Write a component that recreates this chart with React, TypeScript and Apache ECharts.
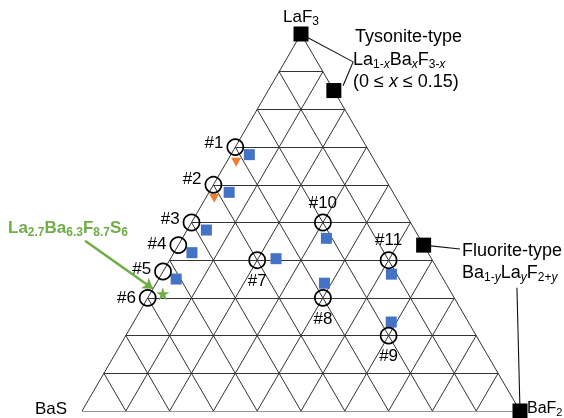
import React, { useEffect, useRef } from 'react';
import * as echarts from 'echarts';

const H = Math.sqrt(3) / 2;

// Ternary compositions as fractions: LaF3 (top), BaF2 (bottom-right); BaS = 1 - LaF3 - BaF2
const gridDivisions = 10;

const sampleNames = ['#1', '#2', '#3', '#4', '#5', '#6', '#7', '#8', '#9', '#10', '#11'];
const sampleLaF3 = [0.7, 0.6, 0.5, 0.44, 0.37, 0.3, 0.4, 0.3, 0.2, 0.5, 0.4];
const sampleBaF2 = [0, 0, 0, 0, 0, 0, 0.2, 0.4, 0.6, 0.3, 0.5];
const sampleLabelPos = ['left', 'left', 'left', 'left', 'left', 'left', 'bottom', 'bottom', 'bottom', 'top', 'top'];
const sampleLabelDy = [-5, -6, -4, -2, -3, 0, 0, 0, 0, 0, 0];

const blueLaF3 = [0.68, 0.58, 0.48, 0.42, 0.35, 0.404, 0.339, 0.236, 0.458, 0.363];
const blueBaF2 = [0.042, 0.046, 0.044, 0.041, 0.04, 0.241, 0.384, 0.588, 0.329, 0.525];

const orangeLaF3 = [0.66, 0.564];
const orangeBaF2 = [0.022, 0.02];

const starLaF3 = [0.311];
const starBaF2 = [0.029];

const phaseNames = ['LaF3', 'Tysonite', 'Fluorite', 'BaF2'];
const phaseLaF3 = [1, 0.85, 0.44, 0];
const phaseBaF2 = [0, 0.15, 0.56, 1];

// annotation leader lines (in the cartesian frame of the triangle)
const tysoniteLeader = [[0.5, H], [0.619, 0.802], [0.596, 0.747]];
const fluoriteLeader = [[0.78, 0.381], [0.863, 0.372]];
const baf2Leader = [[0.993, 0.283], [1, 0]];
const greenArrow = [[0.007, 0.391], [0.162, 0.281]];

const toXY = (a: number, c: number) => [c + a / 2, a * H];

const FONT = '"Liberation Sans", Arial, sans-serif';

const subRich = (fill: string, size = 17, bold = false) => {
  const w = bold ? 'bold' : 'normal';
  const ss = Math.round(size * 0.68);
  return {
    n: { fontSize: size, lineHeight: size + 4, fontFamily: FONT, fill, fontWeight: w },
    s: { fontSize: ss, lineHeight: ss - 1, verticalAlign: 'bottom', fontFamily: FONT, fill, fontWeight: w },
    si: { fontSize: ss, lineHeight: ss - 1, verticalAlign: 'bottom', fontFamily: FONT, fill, fontStyle: 'italic' },
    i: { fontSize: size, lineHeight: size + 4, fontFamily: FONT, fill, fontStyle: 'italic' },
  };
};

export default function App() {
  const ref = useRef<HTMLDivElement>(null);
  useEffect(() => {
    if (!ref.current) return;
    const chart = echarts.init(ref.current, undefined, { renderer: 'svg' });

    const gridLines: any[] = [];
    for (let i = 0; i <= gridDivisions; i++) {
      const t = i / gridDivisions;
      gridLines.push({ coords: [toXY(t, 0), toXY(t, 1 - t)] });
      gridLines.push({ coords: [toXY(0, t), toXY(1 - t, t)] });
      gridLines.push({ coords: [toXY(0, 1 - t), toXY(1 - t, 0)] });
    }

    const samples = sampleNames.map((n, i) => ({
      name: n,
      value: toXY(sampleLaF3[i], sampleBaF2[i]),
      label: { position: sampleLabelPos[i], offset: [0, sampleLabelDy[i]] },
    }));

    const star = 'path://M50,0 L61.8,35.5 L100,35.5 L69.1,57.4 L80.9,93 L50,71 L19.1,93 L30.9,57.4 L0,35.5 L38.2,35.5 Z';

    const option: any = {
      animation: false,
      grid: { left: 82, right: 44, top: 34, bottom: 7 },
      xAxis: { type: 'value', min: 0, max: 1, show: false },
      yAxis: { type: 'value', min: 0, max: H, show: false },
      series: [
        {
          type: 'lines',
          coordinateSystem: 'cartesian2d',
          silent: true,
          lineStyle: { color: '#333', width: 1, opacity: 1 },
          data: gridLines,
          z: 1,
        },
        {
          type: 'line', data: tysoniteLeader, symbol: 'none', silent: true,
          lineStyle: { color: '#111', width: 1.1 }, z: 2,
        },
        {
          type: 'line', data: fluoriteLeader, symbol: 'none', silent: true,
          lineStyle: { color: '#111', width: 1.1 }, z: 2,
        },
        {
          type: 'line', data: baf2Leader, symbol: 'none', silent: true,
          lineStyle: { color: '#111', width: 1.1 }, z: 2,
        },
        {
          type: 'lines',
          coordinateSystem: 'cartesian2d',
          silent: true,
          symbol: ['none', 'arrow'],
          symbolSize: 10,
          lineStyle: { color: '#70AD47', width: 2.5, opacity: 1 },
          data: [{ coords: greenArrow }],
          z: 3,
        },
        {
          type: 'scatter',
          clip: false,
          symbol: 'circle',
          symbolSize: 16,
          itemStyle: { color: 'rgba(0,0,0,0)', borderColor: '#000', borderWidth: 1.7, opacity: 1 },
          label: {
            show: true,
            formatter: '{b}',
            distance: 3,
            fontSize: 17,
            color: '#000',
            fontFamily: FONT,
          },
          data: samples,
          z: 5,
        },
        {
          type: 'scatter',
          clip: false,
          symbol: 'rect',
          symbolSize: 11,
          itemStyle: { color: '#4472C4', opacity: 1 },
          data: blueLaF3.map((a, i) => toXY(a, blueBaF2[i])),
          z: 4,
        },
        {
          type: 'scatter',
          clip: false,
          symbol: 'triangle',
          symbolRotate: 180,
          symbolSize: [10, 9],
          itemStyle: { color: '#ED7D31', opacity: 1 },
          data: orangeLaF3.map((a, i) => toXY(a, orangeBaF2[i])),
          z: 4,
        },
        {
          type: 'scatter',
          clip: false,
          symbol: star,
          symbolSize: 13,
          itemStyle: { color: '#70AD47', opacity: 1 },
          data: starLaF3.map((a, i) => toXY(a, starBaF2[i])),
          z: 4,
        },
        {
          type: 'scatter',
          clip: false,
          symbol: 'rect',
          symbolSize: 15,
          itemStyle: { color: '#000', opacity: 1 },
          data: phaseNames.map((n, i) => ({ name: n, value: toXY(phaseLaF3[i], phaseBaF2[i]) })),
          z: 6,
        },
      ],
      graphic: [
        {
          type: 'text', x: 301, y: 16,
          style: { text: '{n|LaF}{s|3}', rich: subRich('#000', 17), align: 'center', verticalAlign: 'middle' },
        },
        {
          type: 'text', x: 355, y: 36,
          style: { text: '{n|Tysonite-type}', rich: subRich('#000', 18), align: 'left', verticalAlign: 'middle' },
        },
        {
          type: 'text', x: 353, y: 59,
          style: { text: '{n|La}{s|1-}{si|x}{n|Ba}{si|x}{n|F}{s|3-}{si|x}', rich: subRich('#000', 18), align: 'left', verticalAlign: 'middle' },
        },
        {
          type: 'text', x: 353, y: 81,
          style: { text: '{n|(0 ≤ }{i|x}{n| ≤ 0.15)}', rich: subRich('#000', 18), align: 'left', verticalAlign: 'middle' },
        },
        {
          type: 'text', x: 462, y: 250,
          style: { text: '{n|Fluorite-type}', rich: subRich('#000', 18), align: 'left', verticalAlign: 'middle' },
        },
        {
          type: 'text', x: 462, y: 272,
          style: { text: '{n|Ba}{s|1-}{si|y}{n|La}{si|y}{n|F}{s|2+}{si|y}', rich: subRich('#000', 18), align: 'left', verticalAlign: 'middle' },
        },
        {
          type: 'text', x: 35, y: 408,
          style: { text: '{n|BaS}', rich: subRich('#000', 17), align: 'left', verticalAlign: 'middle' },
        },
        {
          type: 'text', x: 527, y: 407,
          style: { text: '{n|BaF}{s|2}', rich: subRich('#000', 16), align: 'left', verticalAlign: 'middle' },
        },
        {
          type: 'text', x: 8, y: 227,
          style: { text: '{n|La}{s|2.7}{n|Ba}{s|6.3}{n|F}{s|8.7}{n|S}{s|6}', rich: subRich('#70AD47', 17, true), align: 'left', verticalAlign: 'middle' },
        },
      ],
    };
    chart.setOption(option);
    return () => chart.dispose();
  }, []);
  return <div ref={ref} style={{ position: 'fixed', left: 0, top: 0, width: 564, height: 418 }} />;
}
